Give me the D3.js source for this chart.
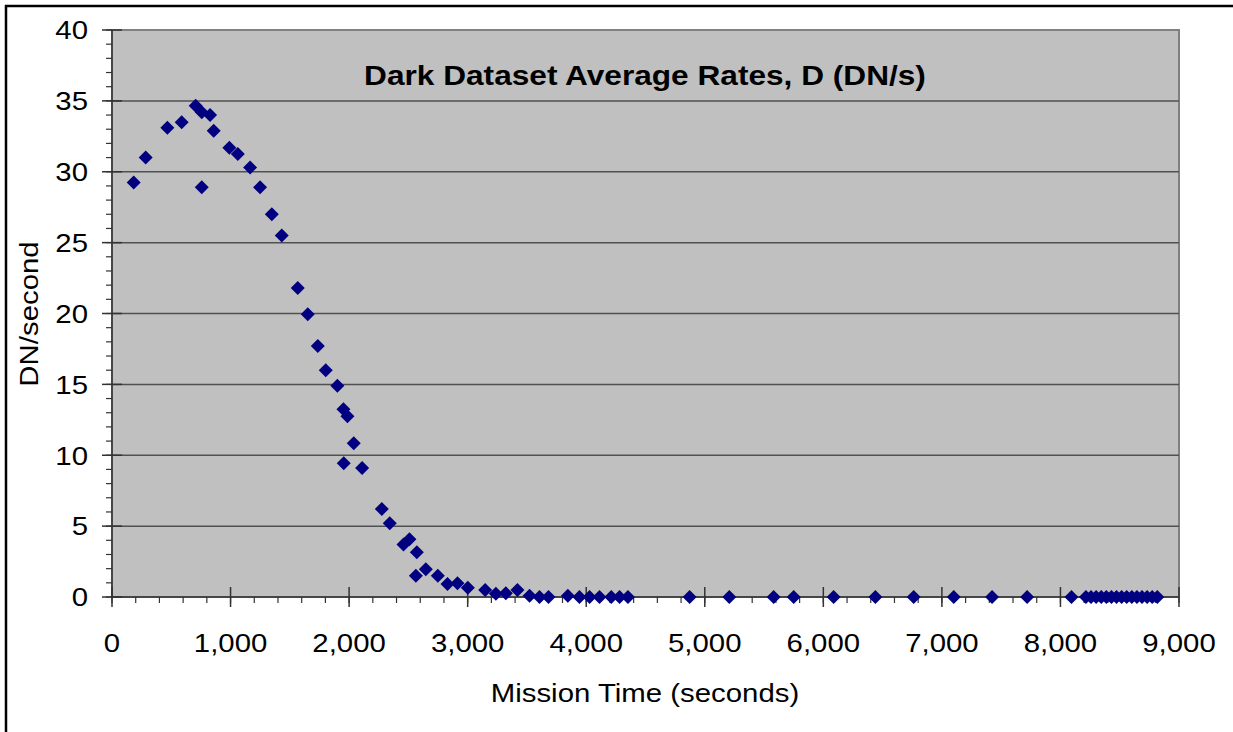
<!DOCTYPE html>
<html>
<head>
<meta charset="utf-8">
<script src="https://cdn.jsdelivr.net/npm/d3@7"></script>
<style>
  html, body { margin: 0; padding: 0; background: #fff; }
  text { font-family: "Liberation Sans", Arial, sans-serif; }
</style>
</head>
<body>
<svg id="chart" width="1233" height="732"></svg>
<script>
// ---- Data ----
const missionTime = [
  183, 284, 467, 588, 706, 757, 827, 858, 757, 990, 1061, 1165, 1249, 1348, 1432,
  1567, 1651, 1736, 1803, 1901, 1952, 1986, 2039, 1955, 2110, 2276, 2343,
  2459, 2509, 2571, 2563, 2647, 2748, 2830, 2914, 3001, 3148, 3238, 3322, 3420,
  3522, 3606, 3682, 3845, 3943, 4028, 4112, 4211, 4281, 4352,
  4872, 5207, 5581, 5750, 6087, 6439, 6762, 7100, 7423, 7719, 8093,
  8215, 8258, 8301, 8344, 8387, 8430, 8473, 8516, 8559, 8602, 8645, 8688, 8731, 8774, 8817
];
const darkRate = [
  29.25, 31.0, 33.1, 33.5, 34.65, 34.2, 34.0, 32.9, 28.9, 31.7, 31.25, 30.3, 28.9, 27.0, 25.5,
  21.8, 19.95, 17.7, 16.0, 14.9, 13.25, 12.75, 10.85, 9.43, 9.1, 6.2, 5.2,
  3.7, 4.07, 3.15, 1.5, 1.95, 1.5, 0.92, 0.97, 0.66, 0.49, 0.23, 0.26, 0.49,
  0.09, 0.0, 0.0, 0.09, 0.0, 0.0, 0.0, 0.0, 0.0, 0.0,
  0, 0, 0, 0, 0, 0, 0, 0, 0, 0, 0,
  0, 0, 0, 0, 0, 0, 0, 0, 0, 0, 0, 0, 0, 0, 0
];
const xTicks = [0, 1000, 2000, 3000, 4000, 5000, 6000, 7000, 8000, 9000];
const yTicks = [0, 5, 10, 15, 20, 25, 30, 35, 40];
const chartTitle = "Dark Dataset Average Rates, D (DN/s)";
const xTitle = "Mission Time (seconds)";
const yTitle = "DN/second";

// ---- Layout ----
const svg = d3.select("#chart");
const plot = { left: 112, top: 30, right: 1179, bottom: 597 };
const SX = 1.13; // slight horizontal glyph stretch seen in the reference

const x = d3.scaleLinear().domain([0, 9000]).range([plot.left, plot.right]);
const y = d3.scaleLinear().domain([0, 40]).range([plot.bottom, plot.top]);

// outer frame (left & top visible)
svg.append("line").attr("x1", 6).attr("x2", 6).attr("y1", 5).attr("y2", 732)
  .attr("stroke", "#000").attr("stroke-width", 2.5);
svg.append("line").attr("x1", 5).attr("x2", 1233).attr("y1", 6).attr("y2", 6)
  .attr("stroke", "#000").attr("stroke-width", 2.5);

// plot background
svg.append("rect")
  .attr("x", plot.left).attr("y", plot.top)
  .attr("width", plot.right - plot.left).attr("height", plot.bottom - plot.top)
  .attr("fill", "#c0c0c0").attr("stroke", "#808080").attr("stroke-width", 2);

// gridlines
svg.append("g").selectAll("line").data(yTicks.filter(d => d > 0 && d < 40)).join("line")
  .attr("x1", plot.left).attr("x2", plot.right)
  .attr("y1", d => y(d)).attr("y2", d => y(d))
  .attr("stroke", "#505050").attr("stroke-width", 1.5);

// y axis
const yAxis = svg.append("g").attr("transform", `translate(${plot.left},0)`);
yAxis.append("line").attr("x1", 0).attr("x2", 0).attr("y1", plot.top).attr("y2", plot.bottom)
  .attr("stroke", "#333").attr("stroke-width", 1.5);
const yMinor = d3.range(0, 41, 1);
yAxis.selectAll("line.minor").data(yMinor).join("line").attr("class", "minor")
  .attr("x1", -6).attr("x2", 0).attr("y1", d => y(d)).attr("y2", d => y(d))
  .attr("stroke", "#333").attr("stroke-width", 1.2);
yAxis.selectAll("line.major").data(yTicks).join("line").attr("class", "major")
  .attr("x1", -10).attr("x2", 10).attr("y1", d => y(d)).attr("y2", d => y(d))
  .attr("stroke", "#333").attr("stroke-width", 1.5);
yAxis.selectAll("text").data(yTicks).join("text")
  .attr("transform", d => `translate(-24,${y(d)}) scale(${SX},1)`)
  .attr("dy", "0.36em")
  .attr("text-anchor", "end").attr("font-size", 26).attr("fill", "#000")
  .text(d => d);

// x axis
const xAxis = svg.append("g").attr("transform", `translate(0,${plot.bottom})`);
xAxis.append("line").attr("x1", plot.left).attr("x2", plot.right).attr("y1", 0).attr("y2", 0)
  .attr("stroke", "#333").attr("stroke-width", 1.5);
const xMinor = d3.range(0, 9001, 200);
xAxis.selectAll("line.minor").data(xMinor).join("line").attr("class", "minor")
  .attr("x1", d => x(d)).attr("x2", d => x(d)).attr("y1", 0).attr("y2", 6)
  .attr("stroke", "#333").attr("stroke-width", 1.2);
xAxis.selectAll("line.major").data(xTicks).join("line").attr("class", "major")
  .attr("x1", d => x(d)).attr("x2", d => x(d)).attr("y1", -10).attr("y2", 10)
  .attr("stroke", "#333").attr("stroke-width", 1.5);
const fmt = d3.format(",");
xAxis.selectAll("text").data(xTicks).join("text")
  .attr("transform", d => `translate(${x(d)},55) scale(${SX},1)`)
  .attr("text-anchor", "middle").attr("font-size", 26).attr("fill", "#000")
  .text(d => fmt(d));

// titles
svg.append("text").attr("transform", `translate(645,85) scale(${SX},1)`).attr("text-anchor", "middle")
  .attr("font-size", 28).attr("font-weight", "bold").attr("fill", "#000").text(chartTitle);
svg.append("text").attr("transform", `translate(645,702) scale(${SX},1)`).attr("text-anchor", "middle")
  .attr("font-size", 26).attr("fill", "#000").text(xTitle);
svg.append("text").attr("transform", `translate(38,314) rotate(-90) scale(${SX},1)`).attr("text-anchor", "middle")
  .attr("font-size", 26).attr("fill", "#000").text(yTitle);

// markers (square diamonds)
const squareDiamond = {
  draw(ctx, size) {
    const r = Math.sqrt(size / 2);
    ctx.moveTo(0, -r); ctx.lineTo(r, 0); ctx.lineTo(0, r); ctx.lineTo(-r, 0); ctx.closePath();
  }
};
const pts = missionTime.map((t, i) => ({ t, v: darkRate[i] }));
const marker = d3.symbol().type(squareDiamond).size(98);
svg.append("g").selectAll("path").data(pts).join("path")
  .attr("transform", d => `translate(${x(d.t)},${y(d.v)})`)
  .attr("d", marker)
  .attr("fill", "#000080");
</script>
</body>
</html>
